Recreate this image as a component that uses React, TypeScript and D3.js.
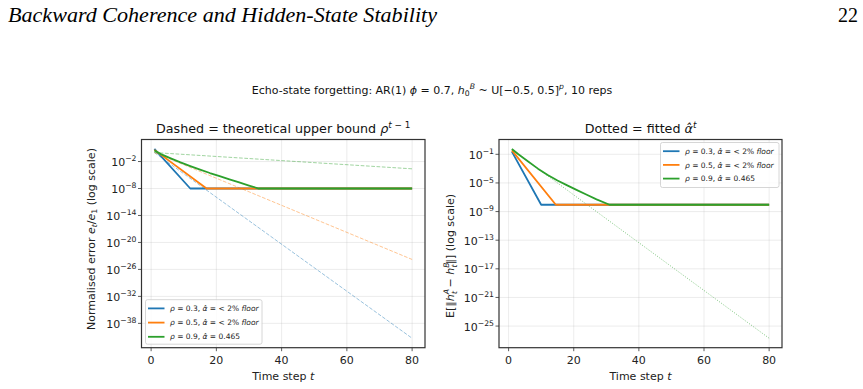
import React, { useEffect, useRef } from "react";
import * as d3 from "d3";

const W = 863;
const H = 389;

const BLUE = "#1f77b4";
const ORANGE = "#ff7f0e";
const GREEN = "#2ca02c";

// Left panel: normalised error e_t / e_1 (vertices of each polyline)
const tBlueL = [1, 12, 80];
const eBlueL = [6.3, 1e-8, 1e-8];
const tOrangeL = [1, 17, 80];
const eOrangeL = [4.0, 1e-8, 1e-8];
const tGreenL = [1, 3, 6, 9, 12, 15, 18, 21, 24, 27, 30, 33, 80];
const eGreenL = [2.8, 0.45, 0.05, 6.3e-3, 1e-3, 1.6e-4, 2.8e-5, 5.6e-6, 1.1e-6, 2.2e-7, 4.5e-8, 1e-8, 1e-8];

// Theoretical bound rho^(t-1), straight on a log axis: t = 1 and t = 80
const tBound = [1, 80];
const boundBlue = [1, 4.9e-42];
const boundOrange = [1, 1.65e-24];
const boundGreen = [1, 2.4e-4];

// Right panel: E||h_t^A - h_t^B||
const tBlueR = [1, 10, 80];
const eBlueR = [0.24, 9e-9, 9e-9];
const tOrangeR = [1, 14.5, 80];
const eOrangeR = [0.36, 9e-9, 9e-9];
const tGreenR = [1, 3, 6, 9, 12, 15, 18, 21, 24, 27, 31, 80];
const eGreenR = [0.56, 0.1, 1e-2, 1e-3, 1.3e-4, 2.2e-5, 4.5e-6, 1e-6, 2.2e-7, 5e-8, 9e-9, 9e-9];

// Fitted alpha_hat^t for rho = 0.9
const tFit = [1, 80];
const eFit = [0.465, 2e-27];

const xTicks = [0, 20, 40, 60, 80];
const yTicksL = [-2, -8, -14, -20, -26, -32, -38];
const yTicksR = [-1, -5, -9, -13, -17, -21, -25];

const SANS = "DejaVu Sans, sans-serif";
const TICK_FS = 11;
const LABEL_FS = 11;
const TITLE_FS = 12.7;
const LEGEND_FS = 7.5;

type Part = { s: string; i?: boolean; up?: boolean; dn?: boolean; dx?: number };

// minimal mathtext: italic runs, super- and subscripts
function rich(text: any, parts: Part[], fs: number) {
  let cur = 0;
  parts.forEach((p) => {
    const shift = p.up ? -0.42 * fs : p.dn ? 0.24 * fs : 0;
    const ts = text.append("tspan")
      .attr("dy", shift - cur)
      .attr("font-size", p.up || p.dn ? fs * 0.7 : fs)
      .text(p.s);
    if (p.i) ts.attr("font-style", "italic");
    if (p.dx) ts.attr("dx", p.dx);
    cur = shift;
  });
}

const zip = (ts: number[], vs: number[]) => ts.map((t, k) => [t, vs[k]] as [number, number]);

function legendParts(rho: string, alpha: string, floor: boolean): Part[] {
  const p: Part[] = [
    { s: "ρ", i: true },
    { s: ` = ${rho}, ` },
    { s: "α\u0302", i: true },
  ];
  if (floor) {
    p.push({ s: " = < 2% " }, { s: "floor", i: true });
  } else {
    p.push({ s: ` = ${alpha}` });
  }
  return p;
}

export default function App() {
  const svgRef = useRef<SVGSVGElement>(null);

  useEffect(() => {
    if (!svgRef.current) return;
    const svg = d3.select(svgRef.current);
    svg.selectAll("*").remove();

    svg.append("rect").attr("width", W).attr("height", H).attr("fill", "white");

    // running header
    svg.append("text")
      .attr("x", 8).attr("y", 22)
      .attr("font-family", "Liberation Serif, serif")
      .attr("font-style", "italic")
      .attr("font-size", 20)
      .attr("textLength", 429)
      .attr("lengthAdjust", "spacingAndGlyphs")
      .text("Backward Coherence and Hidden-State Stability");
    svg.append("text")
      .attr("x", 858).attr("y", 22)
      .attr("text-anchor", "end")
      .attr("font-family", "Liberation Serif, serif")
      .attr("font-size", 20)
      .text("22");

    // figure suptitle
    const sup = svg.append("text")
      .attr("x", 432).attr("y", 93.5)
      .attr("text-anchor", "middle")
      .attr("font-family", SANS)
      .attr("fill", "#111");
    rich(sup, [
      { s: "Echo-state forgetting: AR(1) " },
      { s: "ϕ", i: true },
      { s: " = 0.7, " },
      { s: "h", i: true },
      { s: "0", dn: true },
      { s: "B", i: true, up: true },
      { s: " ~ U[−0.5, 0.5]" },
      { s: "p", i: true, up: true },
      { s: ", 10 reps" },
    ], 11);

    type Series = { pts: [number, number][]; color: string; width: number; opacity: number; dash?: string };

    const drawPanel = (opts: {
      x0: number; x1: number; y0: number; y1: number;
      series: Series[]; yTicks: number[];
      title: Part[]; ylabel: Part[]; ylabelX: number; ylabelY: number;
      legend: "ll" | "ur";
    }) => {
      const { x0, x1, y0, y1 } = opts;
      const allV = opts.series.flatMap((s) => s.pts.map((p) => Math.log10(p[1])));
      const lo = d3.min(allV)!;
      const hi = d3.max(allV)!;
      const pad = (hi - lo) * 0.05;
      const x = d3.scaleLinear().domain([1 - 79 * 0.05, 80 + 79 * 0.05]).range([x0, x1]);
      const y = d3.scaleLog().domain([10 ** (lo - pad), 10 ** (hi + pad)]).range([y1, y0]);

      const g = svg.append("g");
      const clipId = `clip${Math.round(x0)}`;
      svg.append("clipPath").attr("id", clipId)
        .append("rect").attr("x", x0).attr("y", y0).attr("width", x1 - x0).attr("height", y1 - y0);

      // grid
      xTicks.forEach((t) => {
        g.append("line").attr("x1", x(t)).attr("x2", x(t)).attr("y1", y0).attr("y2", y1)
          .attr("stroke", "#b0b0b0").attr("stroke-opacity", 0.3).attr("stroke-width", 0.8);
      });
      opts.yTicks.forEach((e) => {
        g.append("line").attr("x1", x0).attr("x2", x1).attr("y1", y(10 ** e)).attr("y2", y(10 ** e))
          .attr("stroke", "#b0b0b0").attr("stroke-opacity", 0.3).attr("stroke-width", 0.8);
      });

      // data
      const line = d3.line<[number, number]>().x((d) => x(d[0])).y((d) => y(d[1]));
      const lines = g.append("g").attr("clip-path", `url(#${clipId})`);
      opts.series.forEach((s) => {
        lines.append("path")
          .attr("d", line(s.pts))
          .attr("fill", "none")
          .attr("stroke", s.color)
          .attr("stroke-width", s.width)
          .attr("stroke-opacity", s.opacity)
          .attr("stroke-dasharray", s.dash ?? null)
          .attr("stroke-linejoin", "round");
      });

      // spines
      g.append("rect").attr("x", x0).attr("y", y0).attr("width", x1 - x0).attr("height", y1 - y0)
        .attr("fill", "none").attr("stroke", "#333").attr("stroke-width", 1.2);

      // x ticks
      xTicks.forEach((t) => {
        g.append("line").attr("x1", x(t)).attr("x2", x(t)).attr("y1", y1).attr("y2", y1 + 3.5)
          .attr("stroke", "#333").attr("stroke-width", 0.8);
        g.append("text").attr("x", x(t)).attr("y", y1 + 16.5)
          .attr("text-anchor", "middle").attr("font-family", SANS).attr("font-size", TICK_FS)
          .attr("fill", "#222").text(t);
      });
      // y ticks
      opts.yTicks.forEach((e) => {
        const yy = y(10 ** e);
        g.append("line").attr("x1", x0 - 3.5).attr("x2", x0).attr("y1", yy).attr("y2", yy)
          .attr("stroke", "#333").attr("stroke-width", 0.8);
        const tx = g.append("text").attr("x", x0 - 5).attr("y", yy + 4.5)
          .attr("text-anchor", "end").attr("font-family", SANS).attr("fill", "#222");
        rich(tx, [{ s: "10" }, { s: `−${Math.abs(e)}`, up: true }], TICK_FS);
      });

      // title
      const tt = g.append("text").attr("x", (x0 + x1) / 2).attr("y", y0 - 6.5)
        .attr("text-anchor", "middle").attr("font-family", SANS).attr("fill", "#111");
      rich(tt, opts.title, TITLE_FS);

      // axis labels
      const xl = g.append("text").attr("x", (x0 + x1) / 2).attr("y", y1 + 32)
        .attr("text-anchor", "middle").attr("font-family", SANS).attr("fill", "#222");
      rich(xl, [{ s: "Time step " }, { s: "t", i: true }], LABEL_FS);

      const yl = g.append("text")
        .attr("transform", `translate(${opts.ylabelX},${opts.ylabelY}) rotate(-90)`)
        .attr("text-anchor", "middle").attr("font-family", SANS).attr("fill", "#222");
      rich(yl, opts.ylabel, LABEL_FS);

      // legend
      const entries = [
        { color: BLUE, parts: legendParts("0.3", "", true) },
        { color: ORANGE, parts: legendParts("0.5", "", true) },
        { color: GREEN, parts: legendParts("0.9", "0.465", false) },
      ];
      const lw = opts.legend === "ll" ? 116.5 : 118.5;
      const lh = opts.legend === "ll" ? 44.5 : 45;
      const lx = opts.legend === "ll" ? x0 + 4 : x1 - 3 - lw;
      const ly = opts.legend === "ll" ? y1 - 3.5 - lh : y0 + 3;
      const step = opts.legend === "ll" ? 14.2 : 13.7;
      const leg = g.append("g");
      leg.append("rect").attr("x", lx).attr("y", ly).attr("width", lw).attr("height", lh)
        .attr("rx", 2).attr("fill", "white").attr("fill-opacity", 0.8)
        .attr("stroke", "#cccccc").attr("stroke-width", 0.8);
      entries.forEach((en, k) => {
        const ey = ly + 8.7 + k * step;
        leg.append("line").attr("x1", lx + 2.5).attr("x2", lx + 19).attr("y1", ey).attr("y2", ey)
          .attr("stroke", en.color).attr("stroke-width", 1.8);
        const lt = leg.append("text").attr("x", lx + 24.5).attr("y", ey + 2.6)
          .attr("font-family", SANS).attr("fill", "#222");
        rich(lt, en.parts, LEGEND_FS);
      });
    };

    drawPanel({
      x0: 141.5, x1: 425, y0: 139.5, y1: 347.7,
      series: [
        { pts: zip(tBound, boundBlue), color: BLUE, width: 1, opacity: 0.45, dash: "3.7,1.6" },
        { pts: zip(tBound, boundOrange), color: ORANGE, width: 1, opacity: 0.45, dash: "3.7,1.6" },
        { pts: zip(tBound, boundGreen), color: GREEN, width: 1, opacity: 0.45, dash: "3.7,1.6" },
        { pts: zip(tBlueL, eBlueL), color: BLUE, width: 1.8, opacity: 1 },
        { pts: zip(tOrangeL, eOrangeL), color: ORANGE, width: 1.8, opacity: 1 },
        { pts: zip(tGreenL, eGreenL), color: GREEN, width: 1.8, opacity: 1 },
      ],
      yTicks: yTicksL,
      title: [
        { s: "Dashed = theoretical upper bound " },
        { s: "ρ", i: true },
        { s: "t", i: true, up: true },
        { s: " − 1", up: true },
      ],
      ylabel: [
        { s: "Normalised error " },
        { s: "e", i: true },
        { s: "t", i: true, dn: true },
        { s: "/" },
        { s: "e", i: true },
        { s: "1", dn: true },
        { s: "  (log scale)" },
      ],
      ylabelX: 94.5, ylabelY: 239,
      legend: "ll",
    });

    drawPanel({
      x0: 499, x1: 782, y0: 139.5, y1: 347.7,
      series: [
        { pts: zip(tFit, eFit), color: GREEN, width: 1, opacity: 0.6, dash: "1,1.65" },
        { pts: zip(tBlueR, eBlueR), color: BLUE, width: 1.8, opacity: 1 },
        { pts: zip(tOrangeR, eOrangeR), color: ORANGE, width: 1.8, opacity: 1 },
        { pts: zip(tGreenR, eGreenR), color: GREEN, width: 1.8, opacity: 1 },
      ],
      yTicks: yTicksR,
      title: [
        { s: "Dotted = fitted " },
        { s: "α\u0302", i: true },
        { s: "t", i: true, up: true },
      ],
      ylabel: [
        { s: "E[‖" },
        { s: "h", i: true },
        { s: "A", i: true, up: true },
        { s: "t", i: true, dn: true, dx: -5 },
        { s: " − " },
        { s: "h", i: true },
        { s: "B", i: true, up: true },
        { s: "t", i: true, dn: true, dx: -5 },
        { s: "‖]  (log scale)" },
      ],
      ylabelX: 454, ylabelY: 256,
      legend: "ur",
    });
  }, []);

  return (
    <div style={{ position: "absolute", left: 0, top: 0, background: "white" }}>
      <svg ref={svgRef} width={W} height={H} />
    </div>
  );
}
